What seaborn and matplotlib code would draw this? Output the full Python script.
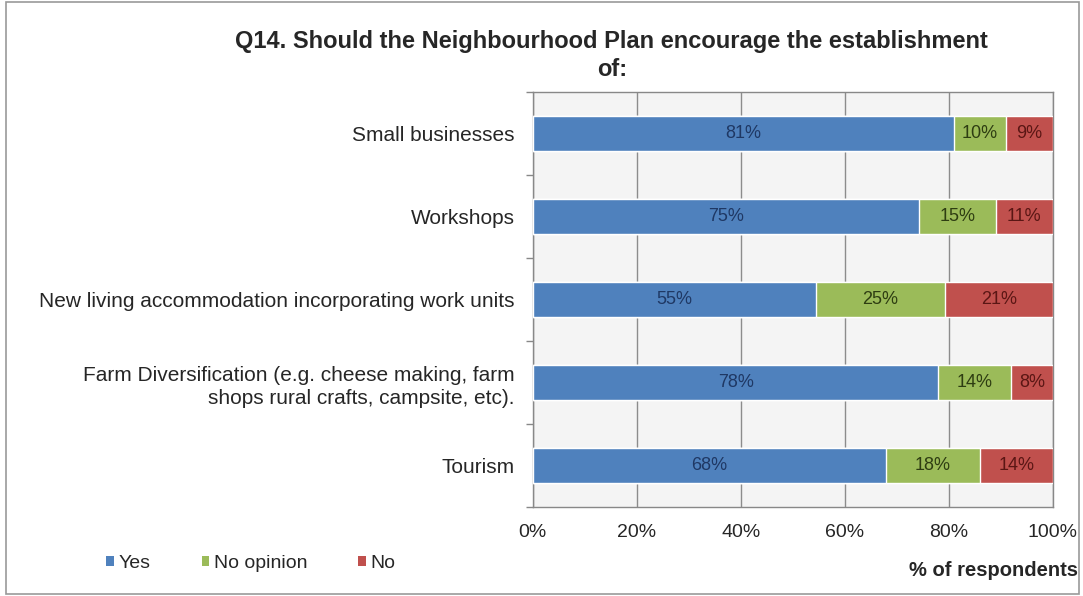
import numpy as np
import pandas as pd
import seaborn as sns
import matplotlib.pyplot as plt
from matplotlib.patches import Rectangle, Patch

categories = [
    "Small businesses",
    "Workshops",
    "New living accommodation incorporating work units",
    "Farm Diversification (e.g. cheese making, farm\nshops rural crafts, campsite, etc).",
    "Tourism",
]
yes = [81, 75, 55, 78, 68]
no_opinion = [10, 15, 25, 14, 18]
no = [9, 11, 21, 8, 14]
series_names = ["Yes", "No opinion", "No"]
colors = ["#4F81BD", "#9BBB59", "#C0504D"]
text_colors = ["#1F3864", "#2E3D12", "#5A1614"]

sns.set_theme(style="white")
plt.rcParams['font.family'] = ['Liberation Sans', 'DejaVu Sans']

df = pd.DataFrame({"category": categories, "Yes": yes, "No opinion": no_opinion, "No": no})
total = df[series_names].sum(axis=1)
# 100% stacked: normalise each row
shares = df[series_names].div(total, axis=0) * 100
cum = shares.cumsum(axis=1)

fig = plt.figure(figsize=(10.83, 5.96), dpi=100)
ax = fig.add_axes([0.492, 0.149, 0.480, 0.697])

# draw from the outermost cumulative layer inward
for i in reversed(range(3)):
    layer = pd.DataFrame({"category": categories, "value": cum[series_names[i]]})
    sns.barplot(data=layer, x="value", y="category", color=colors[i], orient="h",
                width=0.42, saturation=1, ax=ax, zorder=3)

# segment labels
for r in range(len(categories)):
    left = 0
    for i, name in enumerate(series_names):
        w = shares.loc[r, name]
        ax.text(left + w / 2, r, f"{df.loc[r, name]}%", ha="center", va="center",
                fontsize=13, color=text_colors[i], zorder=4)
        left += w

ax.set_xlim(0, 100)
ax.set_ylim(4.5, -0.5)
ax.set_xticks(np.arange(0, 101, 20))
ax.set_xticklabels([f"{t}%" for t in range(0, 101, 20)], fontsize=14)
ax.set_yticks(range(len(categories)))
ax.set_yticklabels(categories, fontsize=15, linespacing=1.3)
ax.set_yticks(np.arange(-0.5, 4.6, 1), minor=True)
ax.tick_params(axis="y", which="major", length=0, pad=13)
ax.tick_params(axis="y", which="minor", length=5, color="#888888", left=True)
ax.tick_params(axis="x", length=0, pad=12)
ax.set_xlabel("")
ax.set_ylabel("")
ax.grid(axis="x", color="#8C8C8C", linewidth=1, zorder=0)
ax.set_facecolor("#F4F4F4")
for s in ax.spines.values():
    s.set_color("#888888")
    s.set_linewidth(1)

fig.text(0.565, 0.950, "Q14. Should the Neighbourhood Plan encourage the establishment\nof:",
         ha="center", va="top", fontsize=17, fontweight="bold", linespacing=1.3)
fig.text(0.995, 0.043, "% of respondents", ha="right", va="center", fontsize=14.5, fontweight="bold")

handles = [Patch(facecolor=c, edgecolor="none") for c in colors]
fig.legend(handles, series_names, loc="center left", bbox_to_anchor=(0.082, 0.055), ncol=3,
           frameon=False, fontsize=14, handlelength=0.4, handleheight=0.4, handletextpad=0.25,
           columnspacing=2.6)

fig.patches.append(Rectangle((0.006, 0.004), 0.99, 0.992, transform=fig.transFigure,
                             fill=False, edgecolor="#999999", linewidth=1.2))

fig.savefig("out.png", dpi=100)
